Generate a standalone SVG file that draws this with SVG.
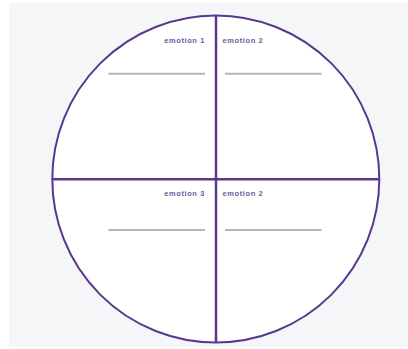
<svg xmlns="http://www.w3.org/2000/svg" width="408" height="349" viewBox="0 0 408 349">
<style>
.lbl{font-family:"Liberation Sans",Arial,sans-serif;font-size:7.5px;font-weight:bold;fill:#72569e;letter-spacing:0.6px}
.blank{stroke:#b5b3bd;stroke-width:2}
.div{stroke:#5a3890;stroke-width:2.5}
</style>
<rect x="0" y="0" width="408" height="349" fill="#ffffff"/>
<rect x="9" y="3" width="399" height="344" fill="#f5f6f8"/>
<g id="circle">
<circle cx="215.8" cy="179" r="163.5" fill="#ffffff" stroke="#5a3890" stroke-width="2"/>
</g>
<g id="connectors">
<line class="div" x1="216" y1="15.5" x2="216" y2="342.5"/>
<line class="div" x1="52.3" y1="179.3" x2="379.3" y2="179.3"/>
</g>
<g id="q1">
<text class="lbl" x="205" y="42.5" text-anchor="end">emotion 1</text>
<line class="blank" x1="108.5" y1="73.7" x2="205" y2="73.7"/>
</g>
<g id="q2">
<text class="lbl" x="222.5" y="42.5">emotion 2</text>
<line class="blank" x1="225" y1="73.7" x2="321.5" y2="73.7"/>
</g>
<g id="q3">
<text class="lbl" x="205" y="195.5" text-anchor="end">emotion 3</text>
<line class="blank" x1="108.5" y1="230" x2="205" y2="230"/>
</g>
<g id="q4">
<text class="lbl" x="222.5" y="195.5">emotion 2</text>
<line class="blank" x1="225" y1="230" x2="321.5" y2="230"/>
</g>
</svg>
